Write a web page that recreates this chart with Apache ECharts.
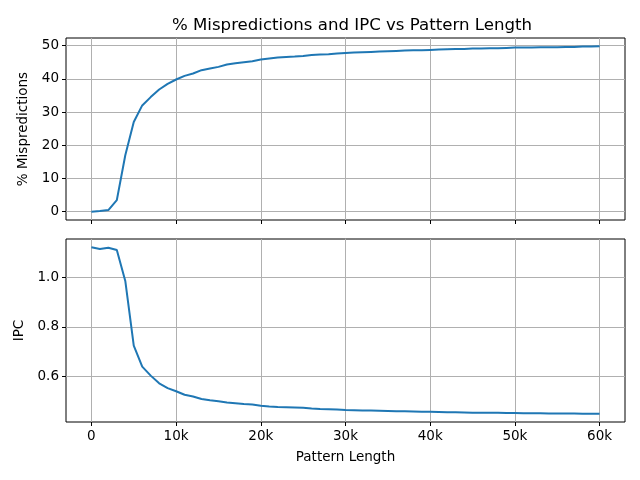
<!DOCTYPE html>
<html>
<head>
<meta charset="utf-8">
<script src="https://cdn.jsdelivr.net/npm/echarts@6/dist/echarts.min.js"></script>
<style>
html, body { margin: 0; padding: 0; background: #fff; }
#chart { width: 640px; height: 480px; }
</style>
</head>
<body>
<div id="chart"></div>
<script>
// pattern lengths (x)
var patternLength = [0, 1000, 2000, 3000, 4000, 5000, 6000, 7000, 8000, 9000,
    10000, 11000, 12000, 13000, 14000, 15000, 16000, 17000, 18000, 19000,
    20000, 21000, 22000, 23000, 24000, 25000, 26000, 27000, 28000, 29000,
    30000, 31000, 32000, 33000, 34000, 35000, 36000, 37000, 38000, 39000,
    40000, 41000, 42000, 43000, 44000, 45000, 46000, 47000, 48000, 49000,
    50000, 51000, 52000, 53000, 54000, 55000, 56000, 57000, 58000, 59000, 60000];
// % mispredictions
var mispred = [0, 0.2, 0.5, 3.5, 17, 27, 32, 34.5, 36.8, 38.5,
    39.8, 40.9, 41.6, 42.6, 43.1, 43.6, 44.3, 44.7, 45.0, 45.3,
    45.8, 46.1, 46.4, 46.6, 46.7, 46.9, 47.2, 47.3, 47.4, 47.6,
    47.8, 47.9, 48.0, 48.1, 48.2, 48.3, 48.4, 48.5, 48.6, 48.6,
    48.7, 48.8, 48.9, 49.0, 49.0, 49.1, 49.1, 49.2, 49.2, 49.3,
    49.4, 49.4, 49.4, 49.5, 49.5, 49.5, 49.6, 49.6, 49.7, 49.7, 49.8];
// IPC
var ipc = [1.120, 1.113, 1.118, 1.109, 0.985, 0.725, 0.640, 0.604, 0.573, 0.554,
    0.541, 0.527, 0.520, 0.510, 0.505, 0.501, 0.496, 0.493, 0.490, 0.488,
    0.483, 0.480, 0.478, 0.477, 0.476, 0.475, 0.472, 0.470, 0.469, 0.468,
    0.466, 0.465, 0.464, 0.464, 0.463, 0.462, 0.461, 0.461, 0.460, 0.459,
    0.459, 0.458, 0.457, 0.457, 0.456, 0.455, 0.455, 0.455, 0.455, 0.454,
    0.454, 0.453, 0.453, 0.453, 0.452, 0.452, 0.452, 0.452, 0.451, 0.451, 0.451];
var xTicks = [0, 10000, 20000, 30000, 40000, 50000, 60000];
var mispredTicks = [0, 10, 20, 30, 40, 50];
var ipcTicks = [0.6, 0.8, 1.0];

var font = 'DejaVu Sans';
var gridLine = {show: true, lineStyle: {color: '#b0b0b0', width: 1}};

var chart = echarts.init(document.getElementById('chart'));

function xAxisOpt(idx, showLabels) {
    return {
        type: 'value',
        gridIndex: idx,
        position: 'bottom',
        min: -3000,
        max: 63000,
        axisLine: {show: false, onZero: false},
        axisTick: {show: true, inside: false, length: 4, customValues: xTicks,
            lineStyle: {color: '#000'}},
        axisLabel: {show: showLabels, customValues: xTicks, margin: 7,
            color: '#000', fontFamily: font, fontSize: 13.5,
            formatter: function (v) { return v === 0 ? '0' : (v / 1000) + 'k'; }},
        splitLine: gridLine,
        name: showLabels ? 'Pattern Length' : '',
        nameLocation: 'middle',
        nameGap: 28,
        nameTextStyle: {color: '#000', fontFamily: font, fontSize: 13.5}
    };
}

function yAxisOpt(idx, min, max, ticks, name, gap, fmt) {
    return {
        type: 'value',
        gridIndex: idx,
        position: 'left',
        min: min,
        max: max,
        axisLine: {show: false, onZero: false},
        axisTick: {show: true, inside: false, length: 4, customValues: ticks,
            lineStyle: {color: '#000'}},
        axisLabel: {customValues: ticks, margin: 7, color: '#000',
            fontFamily: font, fontSize: 13.5, formatter: fmt},
        splitLine: gridLine,
        name: name,
        nameLocation: 'middle',
        nameGap: gap,
        nameRotate: 90,
        nameTextStyle: {color: '#000', fontFamily: font, fontSize: 13.5}
    };
}

var option = {
    animation: false,
    title: {
        text: '% Mispredictions and IPC vs Pattern Length',
        left: 167,
        top: 12,
        textStyle: {color: '#000', fontFamily: font, fontSize: 16.6, fontWeight: 'normal'}
    },
    grid: [
        {left: 66, right: 15, top: 38, height: 182, show: true,
            borderColor: '#000', borderWidth: 1, backgroundColor: 'transparent'},
        {left: 66, right: 15, top: 239, height: 183, show: true,
            borderColor: '#000', borderWidth: 1, backgroundColor: 'transparent'}
    ],
    xAxis: [xAxisOpt(0, false), xAxisOpt(1, true)],
    yAxis: [
        yAxisOpt(0, -2.49, 52.29, mispredTicks, '% Mispredictions', 31,
            function (v) { return String(v); }),
        yAxisOpt(1, 0.4175, 1.1535, ipcTicks, 'IPC', 35,
            function (v) { return v.toFixed(1); })
    ],
    series: [
        {
            type: 'line',
            xAxisIndex: 0,
            yAxisIndex: 0,
            data: patternLength.map(function (x, i) { return [x, mispred[i]]; }),
            showSymbol: false,
            lineStyle: {color: '#1f77b4', width: 2},
            itemStyle: {color: '#1f77b4'}
        },
        {
            type: 'line',
            xAxisIndex: 1,
            yAxisIndex: 1,
            data: patternLength.map(function (x, i) { return [x, ipc[i]]; }),
            showSymbol: false,
            lineStyle: {color: '#1f77b4', width: 2},
            itemStyle: {color: '#1f77b4'}
        }
    ]
};
chart.setOption(option);
</script>
</body>
</html>
